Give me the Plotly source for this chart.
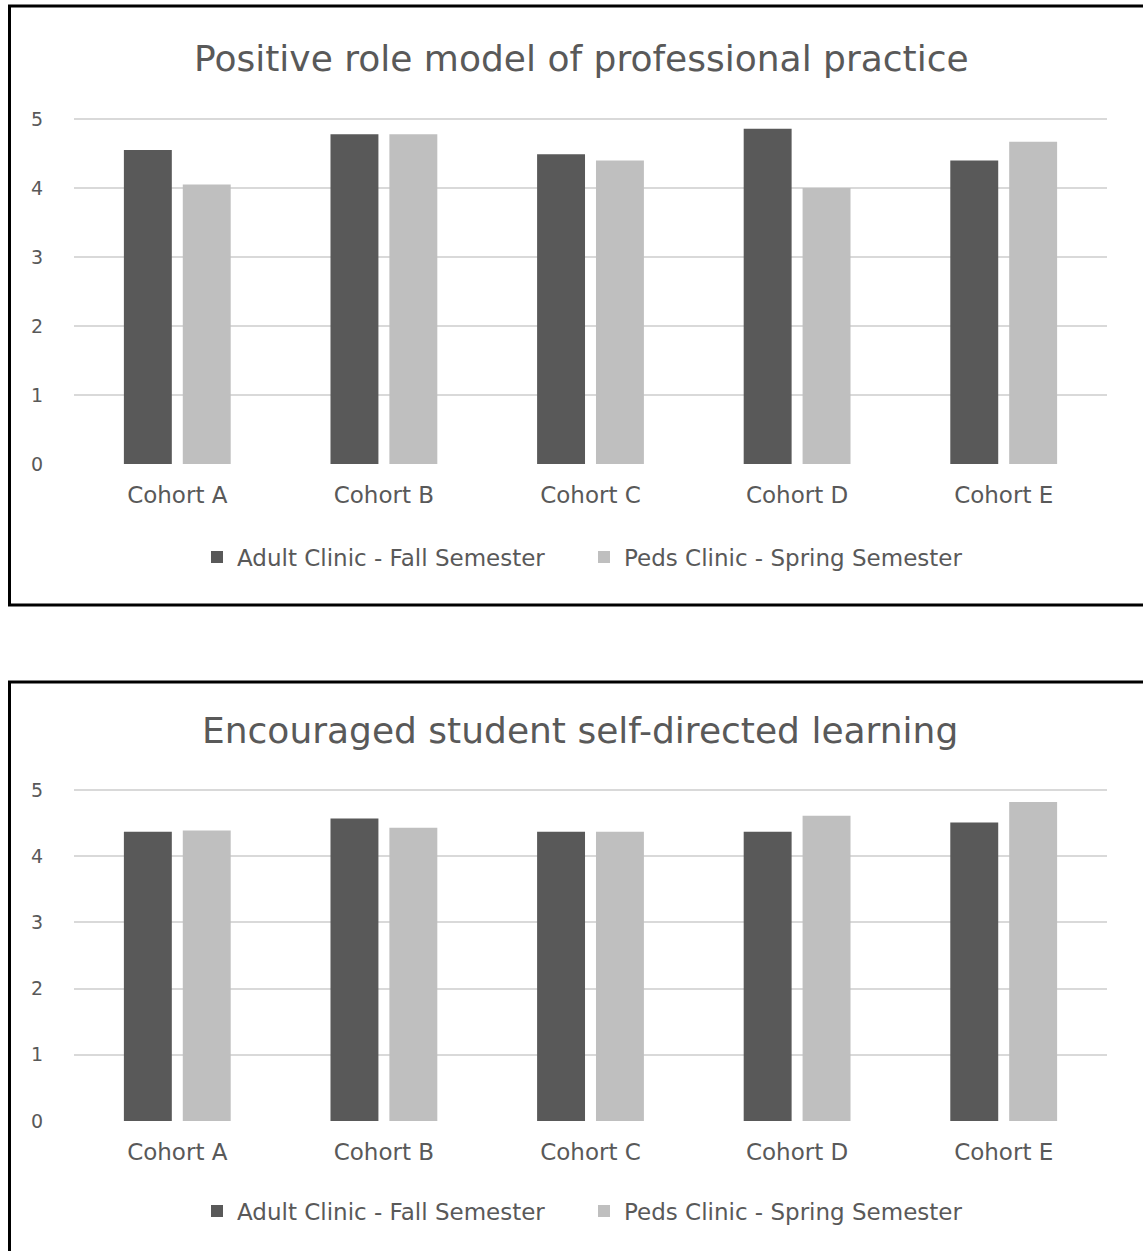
import plotly.graph_objects as go

W, H = 1143, 1251

categories = ["Cohort A", "Cohort B", "Cohort C", "Cohort D", "Cohort E"]
series_names = ["Adult Clinic - Fall Semester", "Peds Clinic - Spring Semester"]

role_model_adult = [4.55, 4.78, 4.49, 4.86, 4.40]
role_model_peds = [4.05, 4.78, 4.40, 4.00, 4.67]

self_directed_adult = [4.37, 4.57, 4.37, 4.37, 4.51]
self_directed_peds = [4.39, 4.43, 4.37, 4.61, 4.82]

titles = ["Positive role model of professional practice",
          "Encouraged student self-directed learning"]
y_ticks = [0, 1, 2, 3, 4, 5]

DARK = "#595959"
LIGHT = "#BFBFBF"
TEXT = "#595959"
GRID = "#D9D9D9"
FONT = "DejaVu Sans"


def px_y(y):
    return (H - y) / H


def px_x(x):
    return x / W


fig = go.Figure()

charts = [
    (role_model_adult, role_model_peds, "x", "y", "legend"),
    (self_directed_adult, self_directed_peds, "x2", "y2", "legend2"),
]
for adult, peds, xa, ya, lg in charts:
    fig.add_trace(go.Bar(x=categories, y=adult, name=series_names[0],
                         marker=dict(color=DARK, line=dict(width=0)),
                         xaxis=xa, yaxis=ya, legend=lg))
    fig.add_trace(go.Bar(x=categories, y=peds, name=series_names[1],
                         marker=dict(color=LIGHT, line=dict(width=0)),
                         xaxis=xa, yaxis=ya, legend=lg))

x_dom = [px_x(74), px_x(1107)]
# chart 1: 0 at y=464, 5 at y=119 ; chart 2: 0 at 1121, 5 at 790
ymax = 5.08
c1_top = 464 - (464 - 119) / 5 * ymax
c2_top = 1121 - (1121 - 790) / 5 * ymax

xaxis_common = dict(showgrid=False, zeroline=False, showline=False,
                    ticks="", ticklabelstandoff=15,
                    tickfont=dict(family=FONT, size=23, color=TEXT))
yaxis_common = dict(range=[0, ymax], tickvals=y_ticks, showgrid=True,
                    gridcolor=GRID, gridwidth=1.6, zeroline=False,
                    showline=False, ticks="", ticklabelstandoff=30,
                    tickfont=dict(family=FONT, size=19, color=TEXT))

legend_common = dict(orientation="h", xanchor="center", yanchor="middle",
                     font=dict(family=FONT, size=23, color=TEXT),
                     bgcolor="rgba(0,0,0,0)", itemclick=False,
                     itemdoubleclick=False, entrywidth=342, entrywidthmode="pixels")

fig.update_layout(
    width=W, height=H, autosize=False,
    margin=dict(l=0, r=0, t=0, b=0, pad=0, autoexpand=False),
    paper_bgcolor="white", plot_bgcolor="white",
    barmode="group", bargap=0.43, bargroupgap=0.186,
    xaxis=dict(domain=x_dom, anchor="y", **xaxis_common),
    yaxis=dict(domain=[px_y(464), px_y(c1_top)], anchor="x", **yaxis_common),
    xaxis2=dict(domain=x_dom, anchor="y2", **xaxis_common),
    yaxis2=dict(domain=[px_y(1121), px_y(c2_top)], anchor="x2", **yaxis_common),
    legend=dict(x=px_x(584), y=px_y(557), **legend_common),
    legend2=dict(x=px_x(584), y=px_y(1211), **legend_common),
    showlegend=True,
)

fig.add_annotation(text=titles[0], x=px_x(581), y=px_y(58), xref="paper", yref="paper",
                   showarrow=False, xanchor="center", yanchor="middle",
                   font=dict(family=FONT, size=36, color=TEXT))
fig.add_annotation(text=titles[1], x=px_x(580), y=px_y(730), xref="paper", yref="paper",
                   showarrow=False, xanchor="center", yanchor="middle",
                   font=dict(family=FONT, size=36, color=TEXT))

# Chart borders
fig.add_shape(type="rect", xref="paper", yref="paper",
              x0=px_x(9.5), x1=px_x(1160), y0=px_y(605), y1=px_y(6),
              line=dict(color="black", width=3), fillcolor="rgba(0,0,0,0)", layer="above")
fig.add_shape(type="rect", xref="paper", yref="paper",
              x0=px_x(9.5), x1=px_x(1160), y0=px_y(1270), y1=px_y(682),
              line=dict(color="black", width=3), fillcolor="rgba(0,0,0,0)", layer="above")

fig.write_html("out.html")
